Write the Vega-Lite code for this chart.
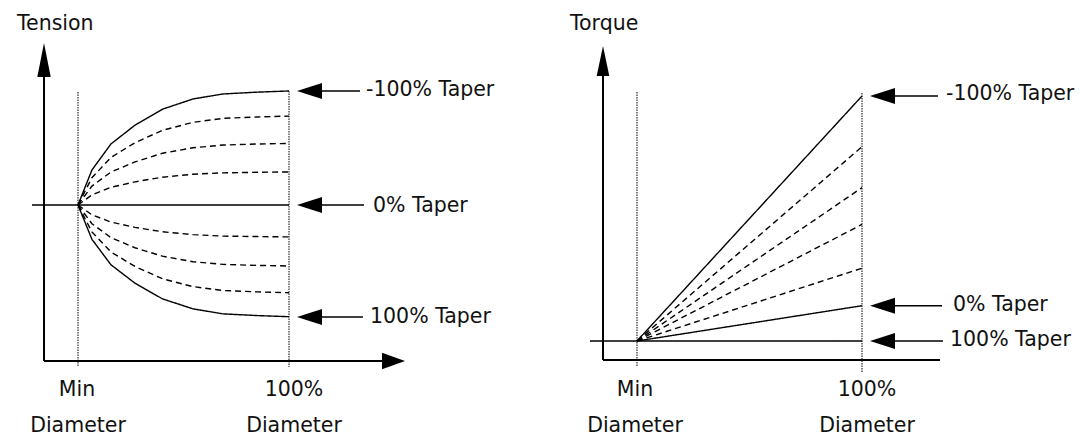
{
  "$schema": "https://vega.github.io/schema/vega-lite/v6.json",
  "padding": 0,
  "spacing": 0,
  "background": "white",
  "config": {"view": {"stroke": null}, "concat": {"spacing": 0}},
  "resolve": {"scale": {"x": "independent", "y": "independent", "shape": "independent", "strokeDash": "independent"}},
  "datasets": {
    "lc": [
      {"curve": "L1", "style": "solid", "d": 0, "v": 0}, {"curve": "L1", "style": "solid", "d": 0.066, "v": 0.307}, {"curve": "L1", "style": "solid", "d": 0.156, "v": 0.535}, {"curve": "L1", "style": "solid", "d": 0.27, "v": 0.70}, {"curve": "L1", "style": "solid", "d": 0.40, "v": 0.84}, {"curve": "L1", "style": "solid", "d": 0.545, "v": 0.93}, {"curve": "L1", "style": "solid", "d": 0.687, "v": 0.974}, {"curve": "L1", "style": "solid", "d": 0.85, "v": 0.99}, {"curve": "L1", "style": "solid", "d": 1, "v": 1},
      {"curve": "L2", "style": "dashed", "d": 0, "v": 0}, {"curve": "L2", "style": "dashed", "d": 0.066, "v": 0.239}, {"curve": "L2", "style": "dashed", "d": 0.156, "v": 0.417}, {"curve": "L2", "style": "dashed", "d": 0.27, "v": 0.546}, {"curve": "L2", "style": "dashed", "d": 0.40, "v": 0.655}, {"curve": "L2", "style": "dashed", "d": 0.545, "v": 0.725}, {"curve": "L2", "style": "dashed", "d": 0.687, "v": 0.76}, {"curve": "L2", "style": "dashed", "d": 0.85, "v": 0.772}, {"curve": "L2", "style": "dashed", "d": 1, "v": 0.78},
      {"curve": "L3", "style": "dashed", "d": 0, "v": 0}, {"curve": "L3", "style": "dashed", "d": 0.066, "v": 0.166}, {"curve": "L3", "style": "dashed", "d": 0.156, "v": 0.289}, {"curve": "L3", "style": "dashed", "d": 0.27, "v": 0.378}, {"curve": "L3", "style": "dashed", "d": 0.40, "v": 0.454}, {"curve": "L3", "style": "dashed", "d": 0.545, "v": 0.502}, {"curve": "L3", "style": "dashed", "d": 0.687, "v": 0.526}, {"curve": "L3", "style": "dashed", "d": 0.85, "v": 0.535}, {"curve": "L3", "style": "dashed", "d": 1, "v": 0.54},
      {"curve": "L4", "style": "dashed", "d": 0, "v": 0}, {"curve": "L4", "style": "dashed", "d": 0.066, "v": 0.089}, {"curve": "L4", "style": "dashed", "d": 0.156, "v": 0.155}, {"curve": "L4", "style": "dashed", "d": 0.27, "v": 0.203}, {"curve": "L4", "style": "dashed", "d": 0.40, "v": 0.244}, {"curve": "L4", "style": "dashed", "d": 0.545, "v": 0.27}, {"curve": "L4", "style": "dashed", "d": 0.687, "v": 0.282}, {"curve": "L4", "style": "dashed", "d": 0.85, "v": 0.287}, {"curve": "L4", "style": "dashed", "d": 1, "v": 0.29},
      {"curve": "L5", "style": "solid", "d": -0.218, "v": 0}, {"curve": "L5", "style": "solid", "d": 1, "v": 0},
      {"curve": "L6", "style": "dashed", "d": 0, "v": 0}, {"curve": "L6", "style": "dashed", "d": 0.066, "v": -0.086}, {"curve": "L6", "style": "dashed", "d": 0.156, "v": -0.15}, {"curve": "L6", "style": "dashed", "d": 0.27, "v": -0.196}, {"curve": "L6", "style": "dashed", "d": 0.40, "v": -0.235}, {"curve": "L6", "style": "dashed", "d": 0.545, "v": -0.26}, {"curve": "L6", "style": "dashed", "d": 0.687, "v": -0.273}, {"curve": "L6", "style": "dashed", "d": 0.85, "v": -0.277}, {"curve": "L6", "style": "dashed", "d": 1, "v": -0.28},
      {"curve": "L7", "style": "dashed", "d": 0, "v": 0}, {"curve": "L7", "style": "dashed", "d": 0.066, "v": -0.164}, {"curve": "L7", "style": "dashed", "d": 0.156, "v": -0.286}, {"curve": "L7", "style": "dashed", "d": 0.27, "v": -0.375}, {"curve": "L7", "style": "dashed", "d": 0.40, "v": -0.449}, {"curve": "L7", "style": "dashed", "d": 0.545, "v": -0.498}, {"curve": "L7", "style": "dashed", "d": 0.687, "v": -0.521}, {"curve": "L7", "style": "dashed", "d": 0.85, "v": -0.53}, {"curve": "L7", "style": "dashed", "d": 1, "v": -0.535},
      {"curve": "L8", "style": "dashed", "d": 0, "v": 0}, {"curve": "L8", "style": "dashed", "d": 0.066, "v": -0.236}, {"curve": "L8", "style": "dashed", "d": 0.156, "v": -0.412}, {"curve": "L8", "style": "dashed", "d": 0.27, "v": -0.539}, {"curve": "L8", "style": "dashed", "d": 0.40, "v": -0.647}, {"curve": "L8", "style": "dashed", "d": 0.545, "v": -0.716}, {"curve": "L8", "style": "dashed", "d": 0.687, "v": -0.75}, {"curve": "L8", "style": "dashed", "d": 0.85, "v": -0.762}, {"curve": "L8", "style": "dashed", "d": 1, "v": -0.77},
      {"curve": "L9", "style": "solid", "d": 0, "v": 0}, {"curve": "L9", "style": "solid", "d": 0.066, "v": -0.301}, {"curve": "L9", "style": "solid", "d": 0.156, "v": -0.524}, {"curve": "L9", "style": "solid", "d": 0.27, "v": -0.686}, {"curve": "L9", "style": "solid", "d": 0.40, "v": -0.823}, {"curve": "L9", "style": "solid", "d": 0.545, "v": -0.911}, {"curve": "L9", "style": "solid", "d": 0.687, "v": -0.955}, {"curve": "L9", "style": "solid", "d": 0.85, "v": -0.97}, {"curve": "L9", "style": "solid", "d": 1, "v": -0.98}
    ],
    "la": [
      {"d": -0.1611, "d2": -0.1611, "v": -1.368, "v2": 1.33},
      {"d": -0.1611, "d2": 1.5, "v": -1.368, "v2": -1.368}
    ],
    "ls": [
      {"d": 1.1, "d2": 1.3365, "v": 1, "v2": 1},
      {"d": 1.1, "d2": 1.3555, "v": 0, "v2": 0},
      {"d": 1.1, "d2": 1.3507, "v": -0.982, "v2": -0.982}
    ],
    "ld": [
      {"d": 0, "d2": 0, "v": 0.991, "v2": -1.421},
      {"d": 1, "d2": 1, "v": 1.0, "v2": -1.421}
    ],
    "lh": [
      {"d": -0.1611, "v": 1.421, "dir": "up"},
      {"d": 1.5498, "v": -1.368, "dir": "right"},
      {"d": 1.038, "v": 1, "dir": "left"},
      {"d": 1.038, "v": 0, "dir": "left"},
      {"d": 1.038, "v": -0.982, "dir": "left"}
    ],
    "ltl": [
      {"d": -0.2891, "v": 1.535, "label": "Tension"},
      {"d": 1.3649, "v": 0.956, "label": "-100% Taper"},
      {"d": 1.398, "v": -0.0614, "label": "0% Taper"},
      {"d": 1.3839, "v": -1.035, "label": "100% Taper"}
    ],
    "ltc": [
      {"d": -0.005, "v": -1.6754, "label": "Min"},
      {"d": 0, "v": -1.991, "label": "Diameter"},
      {"d": 1.0237, "v": -1.6754, "label": "100%"},
      {"d": 1.0237, "v": -1.991, "label": "Diameter"}
    ],
    "rc": [
      {"curve": "R1", "style": "solid", "d": 0, "v": 0}, {"curve": "R1", "style": "solid", "d": 1, "v": 1.0},
      {"curve": "R2", "style": "dashed", "d": 0, "v": 0}, {"curve": "R2", "style": "dashed", "d": 1, "v": 0.793},
      {"curve": "R3", "style": "dashed", "d": 0, "v": 0}, {"curve": "R3", "style": "dashed", "d": 1, "v": 0.626},
      {"curve": "R4", "style": "dashed", "d": 0, "v": 0}, {"curve": "R4", "style": "dashed", "d": 1, "v": 0.476},
      {"curve": "R5", "style": "dashed", "d": 0, "v": 0}, {"curve": "R5", "style": "dashed", "d": 1, "v": 0.297},
      {"curve": "R6", "style": "solid", "d": 0, "v": 0}, {"curve": "R6", "style": "solid", "d": 1, "v": 0.144},
      {"curve": "R7", "style": "solid", "d": -0.2089, "v": 0}, {"curve": "R7", "style": "solid", "d": 1, "v": 0}
    ],
    "ra": [
      {"d": -0.1511, "d2": -0.1511, "v": -0.0776, "v2": 1.15},
      {"d": -0.1511, "d2": 1.3467, "v": -0.0776, "v2": -0.0776}
    ],
    "rs": [
      {"d": 1.09, "d2": 1.3378, "v": 1.0, "v2": 1.0},
      {"d": 1.09, "d2": 1.3556, "v": 0.144, "v2": 0.144},
      {"d": 1.09, "d2": 1.36, "v": 0, "v2": 0}
    ],
    "rd": [
      {"d": 0, "d2": 0, "v": 1.0163, "v2": -0.1061},
      {"d": 1, "d2": 1, "v": 1.0122, "v2": -0.1306}
    ],
    "rh": [
      {"d": -0.1511, "v": 1.2041, "dir": "up2"},
      {"d": 1.0356, "v": 1.0, "dir": "left"},
      {"d": 1.0356, "v": 0.144, "dir": "left"},
      {"d": 1.0356, "v": 0, "dir": "left"}
    ],
    "rtl": [
      {"d": -0.2978, "v": 1.2694, "label": "Torque"},
      {"d": 1.3733, "v": 0.9837, "label": "-100% Taper"},
      {"d": 1.4044, "v": 0.1224, "label": "0% Taper"},
      {"d": 1.3911, "v": -0.0204, "label": "100% Taper"}
    ],
    "rtc": [
      {"d": -0.0089, "v": -0.2245, "label": "Min"},
      {"d": -0.0089, "v": -0.3714, "label": "Diameter"},
      {"d": 1.0222, "v": -0.2245, "label": "100%"},
      {"d": 1.0222, "v": -0.3714, "label": "Diameter"}
    ]
  },
  "hconcat": [
    {
      "width": 540,
      "height": 438,
      "encoding": {
        "x": {"field": "d", "type": "quantitative", "scale": {"domain": [-0.36967, 2.18957], "nice": false, "zero": false}, "axis": null},
        "y": {"field": "v", "type": "quantitative", "scale": {"domain": [-2.0439, 1.7982], "nice": false, "zero": false}, "axis": null}
      },
      "layer": [
        {"data": {"name": "ld"}, "mark": {"type": "rule", "color": "black", "strokeWidth": 1, "strokeDash": [1.5, 1]}, "encoding": {"x2": {"field": "d2"}, "y2": {"field": "v2"}}},
        {"data": {"name": "la"}, "mark": {"type": "rule", "color": "black", "strokeWidth": 2}, "encoding": {"x2": {"field": "d2"}, "y2": {"field": "v2"}}},
        {"data": {"name": "ls"}, "mark": {"type": "rule", "color": "black", "strokeWidth": 1.5}, "encoding": {"x2": {"field": "d2"}, "y2": {"field": "v2"}}},
        {"data": {"name": "lc"}, "mark": {"type": "line", "color": "black", "strokeWidth": 1.4}, "encoding": {"detail": {"field": "curve", "type": "nominal"}, "strokeDash": {"field": "style", "type": "nominal", "scale": {"domain": ["solid", "dashed"], "range": [[1, 0], [6, 4]]}, "legend": null}}},
        {"data": {"name": "lh"}, "mark": {"type": "point", "filled": true, "size": 1600, "opacity": 1, "color": "black", "strokeWidth": 0}, "encoding": {"shape": {"field": "dir", "type": "nominal", "scale": {"domain": ["up", "up2", "right", "left"], "range": ["M0,0L0.335,1.7L-0.335,1.7Z", "M0,0L0.315,1.5L-0.315,1.5Z", "M0,0L-1.15,-0.41L-1.15,0.41Z", "M0,0L1.25,-0.4L1.25,0.4Z"]}, "legend": null}}},
        {"data": {"name": "ltl"}, "mark": {"type": "text", "align": "left", "baseline": "alphabetic", "font": "DejaVu Sans", "fontSize": 20.5, "color": "#111"}, "encoding": {"text": {"field": "label", "type": "nominal"}}},
        {"data": {"name": "ltc"}, "mark": {"type": "text", "align": "center", "baseline": "alphabetic", "font": "DejaVu Sans", "fontSize": 20.5, "color": "#111"}, "encoding": {"text": {"field": "label", "type": "nominal"}}}
      ]
    },
    {
      "width": 543,
      "height": 438,
      "encoding": {
        "x": {"field": "d", "type": "quantitative", "scale": {"domain": [-0.4311, 1.9822], "nice": false, "zero": false}, "axis": null},
        "y": {"field": "v", "type": "quantitative", "scale": {"domain": [-0.3959, 1.3918], "nice": false, "zero": false}, "axis": null}
      },
      "layer": [
        {"data": {"name": "rd"}, "mark": {"type": "rule", "color": "black", "strokeWidth": 1, "strokeDash": [1.5, 1]}, "encoding": {"x2": {"field": "d2"}, "y2": {"field": "v2"}}},
        {"data": {"name": "ra"}, "mark": {"type": "rule", "color": "black", "strokeWidth": 2}, "encoding": {"x2": {"field": "d2"}, "y2": {"field": "v2"}}},
        {"data": {"name": "rs"}, "mark": {"type": "rule", "color": "black", "strokeWidth": 1.5}, "encoding": {"x2": {"field": "d2"}, "y2": {"field": "v2"}}},
        {"data": {"name": "rc"}, "mark": {"type": "line", "color": "black", "strokeWidth": 1.4}, "encoding": {"detail": {"field": "curve", "type": "nominal"}, "strokeDash": {"field": "style", "type": "nominal", "scale": {"domain": ["solid", "dashed"], "range": [[1, 0], [6, 4]]}, "legend": null}}},
        {"data": {"name": "rh"}, "mark": {"type": "point", "filled": true, "size": 1600, "opacity": 1, "color": "black", "strokeWidth": 0}, "encoding": {"shape": {"field": "dir", "type": "nominal", "scale": {"domain": ["up", "up2", "right", "left"], "range": ["M0,0L0.335,1.7L-0.335,1.7Z", "M0,0L0.315,1.5L-0.315,1.5Z", "M0,0L-1.15,-0.41L-1.15,0.41Z", "M0,0L1.25,-0.4L1.25,0.4Z"]}, "legend": null}}},
        {"data": {"name": "rtl"}, "mark": {"type": "text", "align": "left", "baseline": "alphabetic", "font": "DejaVu Sans", "fontSize": 20.5, "color": "#111"}, "encoding": {"text": {"field": "label", "type": "nominal"}}},
        {"data": {"name": "rtc"}, "mark": {"type": "text", "align": "center", "baseline": "alphabetic", "font": "DejaVu Sans", "fontSize": 20.5, "color": "#111"}, "encoding": {"text": {"field": "label", "type": "nominal"}}}
      ]
    }
  ]
}
